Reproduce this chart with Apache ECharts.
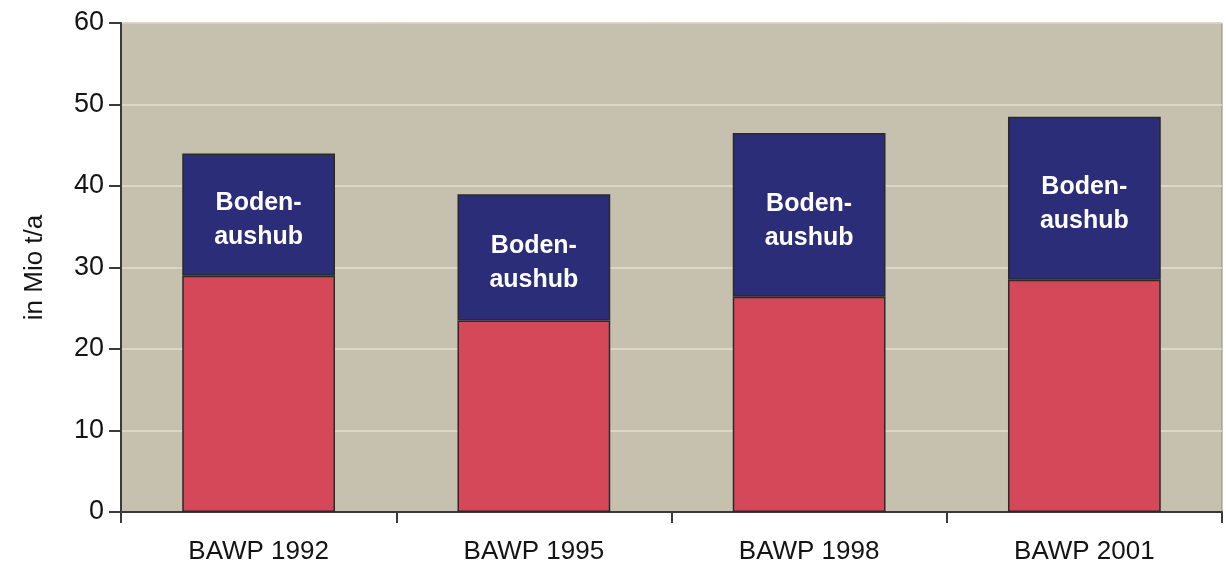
<!DOCTYPE html>
<html>
<head>
<meta charset="utf-8">
<script src="https://cdn.jsdelivr.net/npm/echarts@6/dist/echarts.min.js"></script>
<style>
html,body{margin:0;padding:0;background:#fff;}
#c{width:1226px;height:565px;}
</style>
</head>
<body>
<div id="c"></div>
<script>
const categories = ['BAWP 1992', 'BAWP 1995', 'BAWP 1998', 'BAWP 2001'];
const otherWaste = [29.0, 23.5, 26.4, 28.5];
const bodenaushub = [15.0, 15.5, 20.1, 20.0];
const segmentLabel = 'Boden-\naushub';
const yAxisName = 'in Mio t/a';

const chart = echarts.init(document.getElementById('c'), null, {renderer: 'canvas'});
const font = 'Liberation Sans, Arial, sans-serif';
chart.setOption({
  animation: false,
  backgroundColor: '#ffffff',
  grid: {
    left: 121, right: 4, top: 23, bottom: 52,
    show: true, backgroundColor: '#c6c0af', borderColor: '#8d887a', borderWidth: 1
  },
  xAxis: {
    type: 'category',
    data: categories,
    axisLine: {show: true, lineStyle: {color: '#3a3a3a', width: 2}},
    axisTick: {show: true, length: 11, lineStyle: {color: '#3a3a3a', width: 2}},
    axisLabel: {color: '#141414', fontSize: 26, fontFamily: font, margin: 27}
  },
  yAxis: {
    type: 'value',
    min: 0, max: 60, interval: 10,
    name: yAxisName,
    nameLocation: 'middle',
    nameGap: 73,
    nameRotate: 90,
    nameTextStyle: {color: '#141414', fontSize: 26, fontFamily: font},
    axisLine: {show: true, lineStyle: {color: '#3a3a3a', width: 2}},
    axisTick: {show: true, length: 12, lineStyle: {color: '#3a3a3a', width: 2}},
    axisLabel: {color: '#141414', fontSize: 27, fontFamily: font, margin: 17},
    splitLine: {show: true, lineStyle: {color: '#e4dfd0', width: 1.5}}
  },
  series: [
    {
      type: 'bar', stack: 'total', data: otherWaste, barWidth: '55.5%',
      itemStyle: {color: '#d4485a', borderColor: '#2a2a2a', borderWidth: 1.5}
    },
    {
      type: 'bar', stack: 'total', data: bodenaushub, barWidth: '55.5%',
      itemStyle: {color: '#2c2d79', borderColor: '#2a2a2a', borderWidth: 1.5},
      label: {
        show: true, position: 'inside', formatter: segmentLabel,
        color: '#ffffff', fontSize: 25, fontWeight: 'bold', fontFamily: font,
        lineHeight: 34, offset: [0, 6]
      }
    }
  ]
});
</script>
</body>
</html>
